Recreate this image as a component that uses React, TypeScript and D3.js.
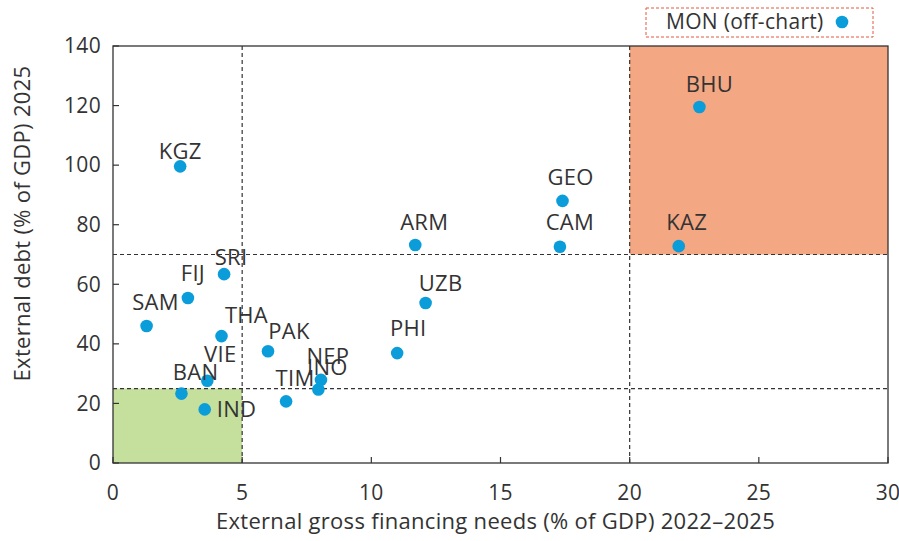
import * as d3 from "d3";

// economies and their values
const economies = ["KGZ", "BHU", "GEO", "CAM", "KAZ", "ARM", "UZB", "PHI", "SRI", "FIJ", "SAM", "THA", "PAK", "VIE", "BAN", "IND", "TIM", "NEP", "INO"];
const financingNeeds = [2.6, 22.7, 17.4, 17.3, 21.9, 11.7, 12.1, 11.0, 4.3, 2.9, 1.3, 4.2, 6.0, 3.65, 2.65, 3.55, 6.7, 8.05, 7.95];
const externalDebt = [99.6, 119.5, 88.0, 72.6, 72.8, 73.2, 53.7, 36.9, 63.4, 55.4, 46.0, 42.6, 37.5, 27.6, 23.3, 18.0, 20.7, 27.9, 24.7];

const xTicks = [0, 5, 10, 15, 20, 25, 30];
const yTicks = [0, 20, 40, 60, 80, 100, 120, 140];

// thresholds
const lowNeeds = 5;
const highNeeds = 20;
const lowDebt = 25;
const highDebt = 70;

// label offsets (px) relative to the dot: [dx, dy, anchor]
const labelOffsets: Record<string, [number, number, string]> = {
  KGZ: [0, -15, "middle"],
  BHU: [10, -23, "middle"],
  GEO: [8, -24, "middle"],
  CAM: [10, -24, "middle"],
  KAZ: [8, -24, "middle"],
  ARM: [9, -23, "middle"],
  UZB: [15, -20, "middle"],
  PHI: [11, -25, "middle"],
  SRI: [7, -17, "middle"],
  FIJ: [5, -25, "middle"],
  SAM: [9, -24, "middle"],
  THA: [25, -21, "middle"],
  PAK: [21, -20, "middle"],
  VIE: [13, -26, "middle"],
  BAN: [14, -21, "middle"],
  IND: [12, 0, "start"],
  TIM: [9, -23, "middle"],
  NEP: [7, -24, "middle"],
  INO: [9, -22, "middle"],
};

const W = 899;
const H = 541;
const margin = { top: 46, right: 11, bottom: 78, left: 113 };
const font = "'Open Sans', sans-serif";
const textColor = "#333";
const dotColor = "#0A9DD9";

export default function App() {
  const x = d3.scaleLinear().domain([0, 30]).range([margin.left, W - margin.right]);
  const y = d3.scaleLinear().domain([0, 140]).range([H - margin.bottom, margin.top]);
  const [x0, x1] = x.range();
  const [y0, y1] = y.range();

  return (
    <svg width={W} height={H} style={{ position: "absolute", left: 0, top: 0, background: "#fff" }} fontFamily={font} letterSpacing={0.3}>
      {/* shaded zones */}
      <rect x={x(0)} y={y(lowDebt)} width={x(lowNeeds) - x(0)} height={y(0) - y(lowDebt)} fill="#C5DF9C" />
      <rect x={x(highNeeds)} y={y(140)} width={x(30) - x(highNeeds)} height={y(highDebt) - y(140)} fill="#F3A783" />

      {/* threshold lines */}
      {[lowNeeds, highNeeds].map((v) => (
        <line key={"v" + v} x1={x(v)} x2={x(v)} y1={y0} y2={y1} stroke="#333" strokeWidth={1.2} strokeDasharray="4,3" />
      ))}
      {[lowDebt, highDebt].map((v) => (
        <line key={"h" + v} x1={x0} x2={x1} y1={y(v)} y2={y(v)} stroke="#333" strokeWidth={1.2} strokeDasharray="4,3" />
      ))}

      {/* frame */}
      <rect x={x0} y={y1} width={x1 - x0} height={y0 - y1} fill="none" stroke="#333" strokeWidth={1.3} />

      {/* ticks */}
      {xTicks.map((t) => (
        <g key={"xt" + t}>
          <line x1={x(t)} x2={x(t)} y1={y0} y2={y0 - 6} stroke="#333" strokeWidth={1.2} />
          <text x={x(t)} y={y0 + 30} dy="0.35em" textAnchor="middle" fontSize={21} fill={textColor}>{t}</text>
        </g>
      ))}
      {yTicks.map((t) => (
        <g key={"yt" + t}>
          <line x1={x0} x2={x0 + 6} y1={y(t)} y2={y(t)} stroke="#333" strokeWidth={1.2} />
          <text x={x0 - 12} y={y(t)} dy="0.35em" textAnchor="end" fontSize={21} fill={textColor}>{t}</text>
        </g>
      ))}

      {/* axis titles */}
      <text x={(x0 + x1) / 2 - 5} y={H - 20} dy="0.35em" textAnchor="middle" fontSize={22} fill={textColor}>
        External gross financing needs (% of GDP) 2022–2025
      </text>
      <text transform={`translate(22,${(y0 + y1) / 2 - 31}) rotate(-90)`} dy="0.35em" textAnchor="middle" fontSize={22} fill={textColor}>
        External debt (% of GDP) 2025
      </text>

      {/* points */}
      {economies.map((e, i) => {
        const cx = x(financingNeeds[i]);
        const cy = y(externalDebt[i]);
        const [dx, dy, anchor] = labelOffsets[e];
        return (
          <g key={e}>
            <circle cx={cx} cy={cy} r={6.3} fill={dotColor} />
            <text x={cx + dx} y={cy + dy} dy="0.35em" textAnchor={anchor as any} fontSize={22} fill={textColor}>{e}</text>
          </g>
        );
      })}

      {/* off-chart note */}
      <rect x={646} y={8} width={227} height={29} fill="none" stroke="#E2593B" strokeWidth={1} strokeDasharray="3,2" />
      <text x={666} y={22} dy="0.35em" fontSize={21} fill={textColor}>MON (off-chart)</text>
      <circle cx={842} cy={22} r={6.3} fill={dotColor} />
    </svg>
  );
}
